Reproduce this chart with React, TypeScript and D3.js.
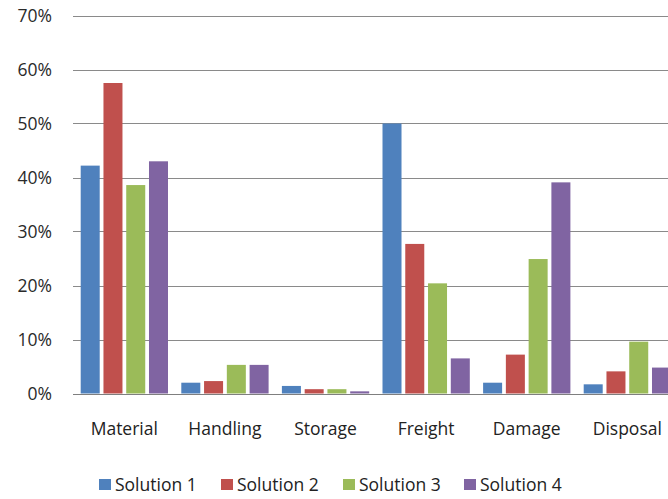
import React from "react";
import * as d3 from "d3";

const categories = ["Material", "Handling", "Storage", "Freight", "Damage", "Disposal"];
const seriesNames = ["Solution 1", "Solution 2", "Solution 3", "Solution 4"];
const solution1 = [42.2, 2.0, 1.4, 50.0, 2.0, 1.7];
const solution2 = [57.5, 2.3, 0.8, 27.7, 7.2, 4.1];
const solution3 = [38.6, 5.3, 0.8, 20.4, 24.9, 9.6];
const solution4 = [43.0, 5.3, 0.4, 6.5, 39.1, 4.8];
const yTicks = [0, 10, 20, 30, 40, 50, 60, 70];
const colors = ["#4F81BD", "#C0504D", "#9BBB59", "#8064A2"];

const W = 668;
const H = 499;
const left = 74;
const catStep = 100.6;
const top = 15.5;
const bottom = 393.5;

export default function App() {
  const series = [solution1, solution2, solution3, solution4];
  const x = d3.scaleBand<string>().domain(categories).range([left, left + catStep * categories.length]).paddingInner(0).paddingOuter(0);
  const inner = d3.scaleBand<string>().domain(seriesNames).range([6.7, 6.7 + 87.3]).paddingInner(0.165).paddingOuter(0);
  const y = d3.scaleLinear().domain([0, 70]).range([bottom, top]);
  const font = "'Open Sans', sans-serif";
  const legendX = [99, 221, 343, 464];

  return (
    <svg width={W} height={H} style={{ position: "absolute", left: 0, top: 0, background: "#fff" }} fontFamily={font}>
      <rect width={W} height={H} fill="#fff" />
      {yTicks.map((t) => (
        <g key={t}>
          <line x1={73} x2={W} y1={Math.round(y(t)) + 0.5} y2={Math.round(y(t)) + 0.5} stroke={t === 0 ? "#7f7f7f" : "#8a8a8a"} strokeWidth={1} />
          <text x={52} y={y(t)} dy="0.36em" textAnchor="end" fontSize={17.5} fill="#2a2a2a">{t}%</text>
        </g>
      ))}
      {categories.map((c, ci) => (
        <g key={c}>
          {series.map((s, si) => (
            <rect
              key={si}
              x={(x(c) as number) + (inner(seriesNames[si]) as number)}
              y={y(s[ci])}
              width={inner.bandwidth()}
              height={bottom - y(s[ci])}
              fill={colors[si]}
            />
          ))}
          <text x={(x(c) as number) + x.bandwidth() / 2} y={434.5} textAnchor="middle" fontSize={17.5} fill="#222">{c}</text>
        </g>
      ))}
      {seriesNames.map((n, i) => (
        <g key={n}>
          <rect x={legendX[i]} y={479} width={12} height={11} fill={colors[i]} />
          <text x={legendX[i] + 16} y={490.5} fontSize={17.5} fill="#222">{n}</text>
        </g>
      ))}
    </svg>
  );
}
